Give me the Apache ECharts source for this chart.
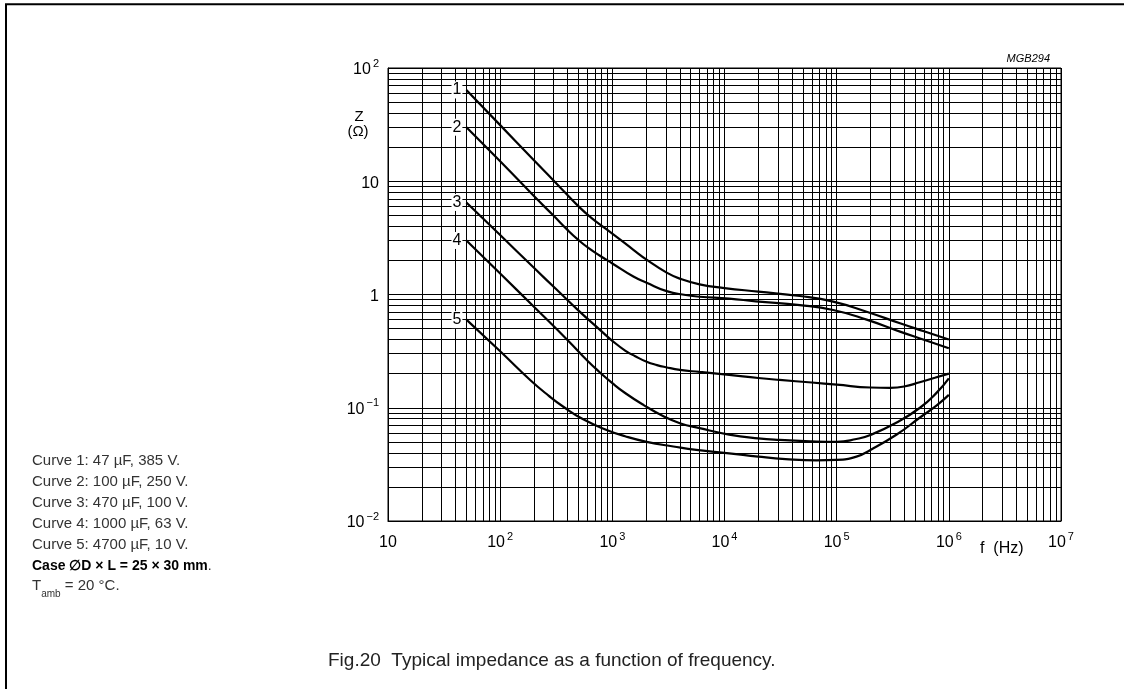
<!DOCTYPE html>
<html><head><meta charset="utf-8">
<script src="https://cdn.jsdelivr.net/npm/echarts@6/dist/echarts.min.js"></script>
<style>html,body{margin:0;padding:0;background:#fff}#c{width:1124px;height:689px}</style>
</head><body><div id="c"></div>
<script>
// ---- data (frequency Hz, impedance Ohm) ----
const curveNames = ['1', '2', '3', '4', '5'];
const curve1 = [[50,64],[100,31.3],[200,15.35],[350,8.63],[500,6.0],[650,4.75],[890,3.75],[1200,3.0],[1540,2.48],[2020,2.03],[3050,1.56],[4000,1.38],[6000,1.23],[10000,1.14],[20000,1.06],[47000,0.97],[93000,0.866],[185000,0.705],[367000,0.557],[600000,0.473],[1000000,0.40]];
const curve2 = [[50,30],[100,15],[200,7.4],[300,4.95],[400,3.7],[500,3.02],[620,2.55],[776,2.2],[1000,1.88],[1540,1.44],[2020,1.27],[3050,1.07],[4500,0.99],[6000,0.955],[11000,0.92],[19000,0.87],[47000,0.805],[93000,0.73],[185000,0.6],[367000,0.47],[600000,0.398],[1000000,0.335]];
const curve3 = [[50,6.5],[100,3.35],[200,1.72],[320,1.1],[500,0.72],[780,0.485],[1000,0.39],[1300,0.32],[1600,0.285],[2020,0.255],[2500,0.238],[3000,0.228],[4000,0.216],[6000,0.207],[11000,0.195],[20000,0.183],[31000,0.176],[60000,0.167],[100000,0.16],[200000,0.151],[300000,0.15],[400000,0.154],[550000,0.168],[750000,0.184],[1000000,0.2]];
const curve4 = [[50,3.0],[100,1.53],[200,0.78],[400,0.395],[600,0.26],[776,0.205],[1000,0.165],[1300,0.135],[1890,0.106],[2800,0.085],[4000,0.073],[6000,0.066],[11000,0.058],[20000,0.0537],[31000,0.052],[60000,0.0505],[100000,0.050],[150000,0.053],[200000,0.0575],[343000,0.074],[553000,0.1],[780000,0.136],[1000000,0.182]];
const curve5 = [[50,0.6],[100,0.315],[185,0.176],[270,0.128],[366,0.102],[550,0.079],[890,0.0637],[1300,0.056],[2020,0.05],[3500,0.0455],[5600,0.0424],[11000,0.0396],[20000,0.037],[35000,0.0352],[66000,0.0343],[100000,0.0346],[150000,0.037],[200000,0.0424],[343000,0.058],[553000,0.082],[780000,0.105],[1000000,0.13]];
const curves = [curve1, curve2, curve3, curve4, curve5];

const xTickExponents = [1, 2, 3, 4, 5, 6, 7];
const yTickExponents = [-2, -1, 0, 1, 2];
const minorMultipliers = [2, 3, 4, 5, 6, 7, 8, 9];

const notes = [
  'Curve 1: 47 µF, 385 V.',
  'Curve 2: 100 µF, 250 V.',
  'Curve 3: 470 µF, 100 V.',
  'Curve 4: 1000 µF, 63 V.',
  'Curve 5: 4700 µF, 10 V.'
];
const caseNote = 'Case ∅D × L = 25 × 30 mm';
const tempNote = ['T', 'amb', ' = 20 °C.'];
const caption = 'Fig.20  Typical impedance as a function of frequency.';
const figCode = 'MGB294';

// ---- build ----
const FONT = '"Liberation Sans", Arial, sans-serif';
const minorX = [], minorY = [];
xTickExponents.slice(0, -1).forEach(e => minorMultipliers.forEach(m => minorX.push({ xAxis: m * Math.pow(10, e) })));
yTickExponents.slice(0, -1).forEach(e => minorMultipliers.forEach(m => minorY.push({ yAxis: m * Math.pow(10, e) })));

const richTick = {
  b: { fontSize: 16, fontFamily: FONT, color: '#000', lineHeight: 20, verticalAlign: 'bottom' },
  s: { fontSize: 11, fontFamily: FONT, color: '#000', lineHeight: 20, verticalAlign: 'top', padding: [0, 0, 0, 2] }
};
function powLabel(v, isY) {
  const e = Math.round(Math.log10(v));
  if (e === 1) return '{b|10}';
  if (e === 0 && isY) return '{b|1}';
  return '{b|10}{s|' + (e < 0 ? '−' + (-e) : e) + '}';
}

const series = [{
  type: 'line', data: [], z: 1, silent: true,
  markLine: {
    silent: true, symbol: ['none', 'none'], animation: false,
    label: { show: false },
    lineStyle: { color: '#000', width: 1, type: 'solid' },
    emphasis: { disabled: true },
    data: minorX.concat(minorY)
  }
}];
curves.forEach((c, i) => {
  series.push({
    type: 'line', name: curveNames[i], data: c, smooth: 0.5,
    showSymbol: false, symbol: 'none', z: 5,
    lineStyle: { color: '#000', width: 2.2 },
    markPoint: {
      symbol: 'circle', symbolSize: 0, silent: true, animation: false,
      data: [{ coord: c[0] }],
      label: {
        show: true, position: 'left', distance: 4, formatter: curveNames[i],
        fontSize: 16, fontFamily: FONT, color: '#000',
        backgroundColor: '#fff', padding: [1, 1, 0, 1]
      }
    }
  });
});

const graphics = [
  { type: 'line', shape: { x1: 6, y1: 4, x2: 6, y2: 689 }, style: { stroke: '#000', lineWidth: 2 } },
  { type: 'line', shape: { x1: 5, y1: 4.3, x2: 1124, y2: 4.3 }, style: { stroke: '#000', lineWidth: 2 } },
  { type: 'text', x: 1050, y: 59, style: { text: figCode, font: 'italic 11px ' + FONT, fill: '#000', align: 'right', verticalAlign: 'middle' } },
  { type: 'text', x: 359, y: 117, style: { text: 'Z', font: '15px ' + FONT, fill: '#000', align: 'center', verticalAlign: 'middle' } },
  { type: 'text', x: 358, y: 132, style: { text: '(Ω)', font: '15px ' + FONT, fill: '#000', align: 'center', verticalAlign: 'middle' } },
  { type: 'text', x: 980, y: 549, style: { text: 'f  (Hz)', font: '16px ' + FONT, fill: '#000', align: 'left', verticalAlign: 'middle' } },
  { type: 'text', x: 328, y: 661, style: { text: caption, font: '19px ' + FONT, fill: '#222', align: 'left', verticalAlign: 'middle' } }
];
notes.forEach((t, i) => {
  graphics.push({ type: 'text', x: 32, y: 461 + 21 * i, style: { text: t, font: '15px ' + FONT, fill: '#333', verticalAlign: 'middle' } });
});
graphics.push({ type: 'text', x: 32, y: 566, style: {
  text: '{b|' + caseNote + '}{n|.}', verticalAlign: 'middle',
  rich: { b: { font: 'bold 14px ' + FONT, fill: '#000' }, n: { font: '14px ' + FONT, fill: '#333' } }
} });
graphics.push({ type: 'text', x: 32, y: 587, style: {
  text: '{n|' + tempNote[0] + '}{s|' + tempNote[1] + '}{n|' + tempNote[2] + '}', verticalAlign: 'middle',
  rich: { n: { font: '15px ' + FONT, fill: '#333', lineHeight: 18, verticalAlign: 'top' }, s: { font: '10px ' + FONT, fill: '#333', lineHeight: 18, verticalAlign: 'bottom', padding: [0, 0, -3, 0] } }
} });

const chart = echarts.init(document.getElementById('c'), null, { renderer: 'canvas' });
chart.setOption({
  animation: false,
  backgroundColor: '#fff',
  grid: { left: 388, top: 68, width: 673, height: 453, show: true, borderColor: '#000', borderWidth: 1, containLabel: false },
  xAxis: {
    type: 'log', logBase: 10, min: 10, max: 1e7,
    axisLine: { show: true, lineStyle: { color: '#000', width: 1 } },
    axisTick: { show: false },
    splitLine: { show: true, lineStyle: { color: '#000', width: 1 } },
    axisLabel: { margin: 10, formatter: v => powLabel(v, false), rich: richTick }
  },
  yAxis: {
    type: 'log', logBase: 10, min: 0.01, max: 100,
    axisLine: { show: true, lineStyle: { color: '#000', width: 1 } },
    axisTick: { show: false },
    splitLine: { show: true, lineStyle: { color: '#000', width: 1 } },
    axisLabel: { margin: 9, formatter: v => powLabel(v, true), rich: richTick }
  },
  series: series,
  graphic: graphics
});
</script></body></html>
